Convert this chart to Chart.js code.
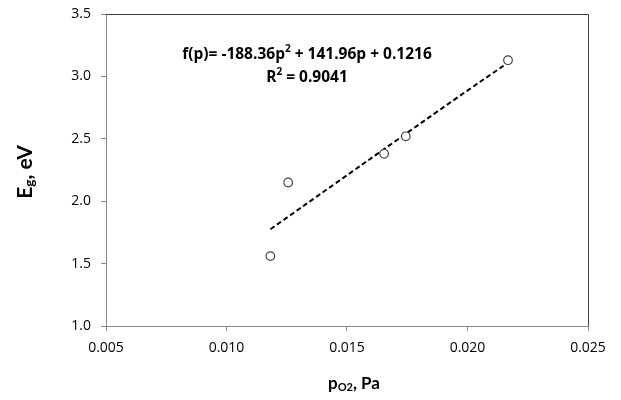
<!DOCTYPE html>
<html>
<head>
<meta charset="utf-8">
<script src="https://cdn.jsdelivr.net/npm/chart.js@4/dist/chart.umd.min.js"></script>
<style>
  html, body { margin: 0; padding: 0; background: #fff; }
  #wrap { width: 621px; height: 400px; }
</style>
</head>
<body>
<div id="wrap"><canvas id="egChart" width="621" height="400"></canvas></div>
<script>
// measured points, p_O2 (Pa) vs Eg (eV)
var pO2 = [0.01182, 0.01256, 0.01654, 0.01744, 0.02168];
var eg = [1.56, 2.15, 2.38, 2.52, 3.13];

// dashed trend line
var trendP = [0.01182, 0.0145, 0.017, 0.0195, 0.02168];
var trendEg = [1.775, 2.14, 2.48, 2.82, 3.11];

var xTicks = [0.005, 0.010, 0.015, 0.020, 0.025];
var yTicks = [1.0, 1.5, 2.0, 2.5, 3.0, 3.5];

var eqLine = 'f(p)= -188.36p';
var eqRest = ' + 141.96p + 0.1216';
var r2Text = ' = 0.9041';

var tickFont = '"Open Sans", sans-serif';
var titleFont = 'Lato, "Open Sans", sans-serif';

var toXY = function(xs, ys) {
  return xs.map(function(x, i) { return { x: x, y: ys[i] }; });
};

// draws text pieces with sub/superscripts, returns total width
var drawPieces = function(ctx, pieces, x, y, size, fam, measureOnly) {
  var w = 0;
  pieces.forEach(function(pc) {
    var s = pc.small ? size * 0.65 : size;
    ctx.font = 'bold ' + s + 'px ' + fam;
    var dy = pc.sup ? -size * 0.38 : (pc.sub ? size * 0.22 : 0);
    if (!measureOnly) ctx.fillText(pc.t, x + w, y + dy);
    w += ctx.measureText(pc.t).width;
  });
  return w;
};

var extras = {
  id: 'extras',
  afterDraw: function(chart) {
    var ctx = chart.ctx;
    var a = chart.chartArea;
    ctx.save();
    // plot box top / right edges
    ctx.strokeStyle = '#404040';
    ctx.lineWidth = 1;
    ctx.beginPath();
    ctx.moveTo(a.left, a.top + 0.5);
    ctx.lineTo(a.right + 0.5, a.top + 0.5);
    ctx.lineTo(a.right + 0.5, a.bottom);
    ctx.stroke();

    ctx.fillStyle = '#000';
    ctx.textBaseline = 'middle';
    ctx.textAlign = 'left';

    // equation
    var eq = [{ t: eqLine }, { t: '2', small: true, sup: true }, { t: eqRest }];
    var w1 = drawPieces(ctx, eq, 0, 0, 15.5, tickFont, true);
    drawPieces(ctx, eq, 307 - w1 / 2, 55, 15.5, tickFont);
    var r2 = [{ t: 'R' }, { t: '2', small: true, sup: true }, { t: r2Text }];
    var w2 = drawPieces(ctx, r2, 0, 0, 15.5, tickFont, true);
    drawPieces(ctx, r2, 307 - w2 / 2, 78, 15.5, tickFont);

    // x title
    var xt = [{ t: 'p' }, { t: 'O2', small: true, sub: true }, { t: ', Pa' }];
    var w3 = drawPieces(ctx, xt, 0, 0, 17, titleFont, true);
    drawPieces(ctx, xt, 354 - w3 / 2, 384, 17, titleFont);

    // y title
    var yt = [{ t: 'E' }, { t: 'g', small: true, sub: true }, { t: ', eV' }];
    var w4 = drawPieces(ctx, yt, 0, 0, 21, titleFont, true);
    ctx.translate(25, 172);
    ctx.rotate(-Math.PI / 2);
    drawPieces(ctx, yt, -w4 / 2, 0, 21, titleFont);
    ctx.restore();
  }
};

new Chart(document.getElementById('egChart'), {
  type: 'scatter',
  data: {
    datasets: [{
      label: 'Eg',
      data: toXY(pO2, eg),
      showLine: false,
      pointStyle: 'circle',
      pointRadius: 4.3,
      pointBorderWidth: 1.2,
      pointBorderColor: '#404040',
      pointBackgroundColor: '#ffffff',
      order: 0
    },
    {
      label: 'trend',
      data: toXY(trendP, trendEg),
      showLine: true,
      borderColor: '#000',
      borderWidth: 2,
      borderDash: [5, 3],
      pointRadius: 0,
      tension: 0.4,
      order: 1
    }]
  },
  options: {
    responsive: false,
    animation: false,
    layout: { padding: { left: 0, right: 33, top: 14, bottom: 0 } },
    plugins: {
      legend: { display: false },
      tooltip: { enabled: false }
    },
    scales: {
      x: {
        type: 'linear',
        min: 0.005,
        max: 0.025,
        afterBuildTicks: function(scale) {
          scale.ticks = xTicks.map(function(v) { return { value: v }; });
        },
        afterFit: function(scale) {
          scale.height = 74;
          scale.paddingLeft = 0;
          scale.paddingRight = 0;
        },
        border: { color: '#888888', width: 1 },
        grid: { drawOnChartArea: false, drawTicks: true, tickLength: 5, color: '#888888' },
        ticks: {
          color: '#000',
          padding: 9,
          font: { family: tickFont, size: 14 },
          callback: function(v) { return v.toFixed(3); }
        }
      },
      y: {
        min: 1.0,
        max: 3.5,
        afterBuildTicks: function(scale) {
          scale.ticks = yTicks.map(function(v) { return { value: v }; });
        },
        afterFit: function(scale) {
          scale.width = 106;
          scale.paddingTop = 0;
          scale.paddingBottom = 0;
        },
        border: { color: '#888888', width: 1 },
        grid: { drawOnChartArea: false, drawTicks: true, tickLength: 5, color: '#888888' },
        ticks: {
          color: '#000',
          padding: 10,
          font: { family: tickFont, size: 14 },
          callback: function(v) { return v.toFixed(1); }
        }
      }
    }
  },
  plugins: [extras]
});
</script>
</body>
</html>
